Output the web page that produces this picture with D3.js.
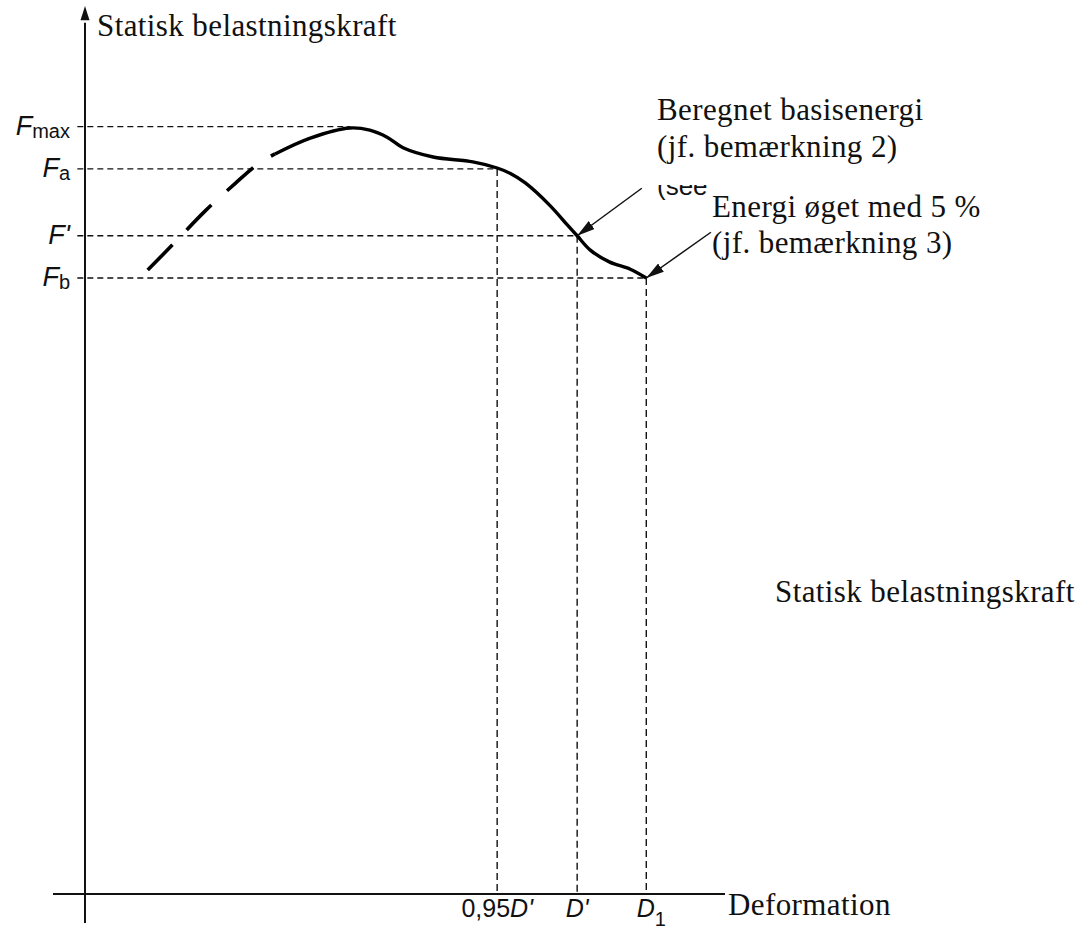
<!DOCTYPE html>
<html>
<head>
<meta charset="utf-8">
<script src="https://cdn.jsdelivr.net/npm/d3@7"></script>
<style>
  html, body { margin: 0; padding: 0; background: #fff; }
  svg { display: block; }
  .serif { font-family: "Liberation Serif", "Times New Roman", serif; font-size: 31px; letter-spacing: 0.4px; fill: #111; }
  .sans { font-family: "Liberation Sans", Arial, sans-serif; fill: #111; }
</style>
</head>
<body>
<svg id="chart" width="1086" height="935"></svg>
<script>
// ---- Data (arbitrary units: deformation 0..100, force 0..100) ----
const forceLevels = [
  { key: "Fmax", main: "F", sub: "max", value: 87.2 },
  { key: "Fa",   main: "F", sub: "a",   value: 82.4 },
  { key: "Fp",   main: "F'", sub: "",   value: 74.8 },
  { key: "Fb",   main: "F", sub: "b",   value: 70.0 }
];
const deformLevels = [
  { key: "095Dp", main: "0,95D'", sub: "", value: 64.4, from: 82.4 },
  { key: "Dp",    main: "D'",     sub: "", value: 76.9, from: 74.8 },
  { key: "D1",    main: "D",      sub: "1", value: 87.7, from: 70.0 }
];
// horizontal guide ends (where each force level meets the curve)
const guideEnds = [41.4, 64.4, 76.9, 87.7];

// dashed (extrapolated) part of the curve
const curveDashedX = [9.8, 14.1, 18.75, 23.4, 27.0, 29.7];
const curveDashedY = [70.9, 74.1, 77.6, 80.7, 82.95, 84.1];
// solid (measured) part of the curve
const curveSolidX = [29.7, 35.2, 41.4, 44.5, 47.2, 49.7, 54.4, 60.6, 64.4, 66.4, 68.8, 72.7, 75.4, 76.9, 78.9, 82.0, 85.2, 87.7];
const curveSolidY = [84.1, 85.9, 87.05, 86.8, 86.0, 84.8, 83.75, 83.2, 82.5, 81.9, 80.8, 78.2, 76.0, 74.8, 73.2, 71.8, 71.0, 70.0];

// annotation arrows: start -> tip (data units)
const arrowStartX = [87.0, 97.8];
const arrowStartY = [80.2, 75.2];
const arrowTipX = [76.9, 87.7];
const arrowTipY = [74.8, 70.0];

// ---- Scales ----
const x = d3.scaleLinear().domain([0, 100]).range([85, 725]);
const y = d3.scaleLinear().domain([0, 100]).range([894, 14]);

const svg = d3.select("#chart");
const defs = svg.append("defs");
defs.append("marker")
  .attr("id", "arrowHead").attr("viewBox", "0 0 18 10")
  .attr("refX", 18).attr("refY", 5)
  .attr("markerWidth", 18).attr("markerHeight", 10)
  .attr("markerUnits", "userSpaceOnUse").attr("orient", "auto")
  .append("path").attr("d", "M0,0 L18,5 L0,10 Z").attr("fill", "#111");
defs.append("clipPath").attr("id", "seeClip")
  .append("rect").attr("x", 640).attr("y", 185).attr("width", 75).attr("height", 30);

// ---- Guide lines ----
const g = svg.append("g");
forceLevels.forEach((f, i) => {
  g.append("line")
    .attr("x1", x(-1.2)).attr("x2", x(guideEnds[i]))
    .attr("y1", y(f.value)).attr("y2", y(f.value))
    .attr("stroke", "#111").attr("stroke-width", 1.4).attr("stroke-dasharray", "6,4");
});
deformLevels.forEach(d => {
  g.append("line")
    .attr("x1", x(d.value)).attr("x2", x(d.value))
    .attr("y1", y(d.from)).attr("y2", y(0))
    .attr("stroke", "#111").attr("stroke-width", 1.4).attr("stroke-dasharray", "7,4");
});

// ---- Axes ----
svg.append("line").attr("x1", x(-5)).attr("x2", x(100))
  .attr("y1", y(0)).attr("y2", y(0)).attr("stroke", "#111").attr("stroke-width", 2);
svg.append("line").attr("x1", x(0)).attr("x2", x(0))
  .attr("y1", y(-3.3)).attr("y2", y(99))
  .attr("stroke", "#111").attr("stroke-width", 2);
svg.append("path")
  .attr("d", `M${x(0)},${y(100.9)} L${x(0) - 4.5},${y(99.3)} L${x(0) + 4.5},${y(99.3)} Z`)
  .attr("fill", "#111");

// ---- Curve ----
const line = d3.line().x(d => x(d[0])).y(d => y(d[1])).curve(d3.curveCatmullRom.alpha(0.5));
svg.append("path")
  .datum(curveDashedX.map((v, i) => [v, curveDashedY[i]]))
  .attr("d", line).attr("fill", "none").attr("stroke", "#000")
  .attr("stroke-width", 3.6).attr("stroke-dasharray", "35,21");
svg.append("path")
  .datum(curveSolidX.map((v, i) => [v, curveSolidY[i]]))
  .attr("d", line).attr("fill", "none").attr("stroke", "#000")
  .attr("stroke-width", 3.4).attr("stroke-linejoin", "round");

// ---- Arrows ----
arrowStartX.forEach((v, i) => {
  svg.append("line")
    .attr("x1", x(v)).attr("y1", y(arrowStartY[i]))
    .attr("x2", x(arrowTipX[i])).attr("y2", y(arrowTipY[i]))
    .attr("stroke", "#111").attr("stroke-width", 1.5)
    .attr("marker-end", "url(#arrowHead)");
});

// ---- Force labels (left) ----
forceLevels.forEach(f => {
  const t = svg.append("text").attr("class", "sans")
    .attr("x", 70).attr("y", y(f.value) + 8)
    .attr("text-anchor", "end").style("font-size", "27px");
  t.append("tspan").style("font-style", "italic").text(f.main);
  if (f.sub) t.append("tspan").attr("dy", 3).style("font-size", "20px").text(f.sub);
});

// ---- Deformation tick labels ----
deformLevels.forEach(d => {
  const t = svg.append("text").attr("class", "sans")
    .attr("x", x(d.value) + (d.sub ? 5 : 0)).attr("y", 917)
    .attr("text-anchor", "middle").style("font-size", "25px");
  if (d.key === "095Dp") {
    t.append("tspan").text("0,95");
    t.append("tspan").style("font-style", "italic").text("D'");
  } else {
    t.append("tspan").style("font-style", "italic").text(d.main);
    if (d.sub) t.append("tspan").attr("dy", 9).style("font-size", "20px").text(d.sub);
  }
});

// ---- Texts ----
svg.append("text").attr("class", "serif").attr("x", 97).attr("y", 36).text("Statisk belastningskraft");
svg.append("text").attr("class", "serif").attr("x", 728).attr("y", 915).text("Deformation");
svg.append("text").attr("class", "serif").attr("x", 657).attr("y", 120).text("Beregnet basisenergi");
svg.append("text").attr("class", "serif").attr("x", 657).attr("y", 157).text("(jf. bemærkning 2)");
svg.append("text").attr("class", "serif").attr("x", 712).attr("y", 217).text("Energi øget med 5 %");
svg.append("text").attr("class", "serif").attr("x", 712).attr("y", 253).text("(jf. bemærkning 3)");
svg.append("text").attr("class", "serif").attr("x", 775).attr("y", 602).text("Statisk belastningskraft");
svg.append("text").attr("class", "sans").attr("x", 657).attr("y", 195)
  .attr("clip-path", "url(#seeClip)").style("font-size", "26px").text("(see");
</script>
</body>
</html>
